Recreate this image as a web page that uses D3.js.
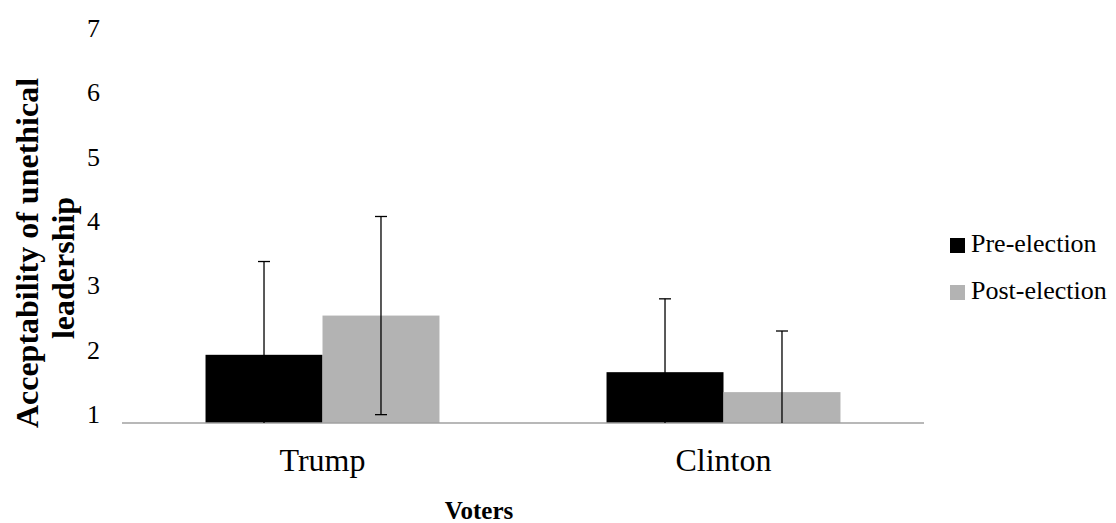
<!DOCTYPE html>
<html>
<head>
<meta charset="utf-8">
<script src="https://cdn.jsdelivr.net/npm/d3@7"></script>
<style>
  body { margin: 0; background: #fff; }
</style>
</head>
<body>
<script>
// data
var voters = ["Trump", "Clinton"];
var series = ["Pre-election", "Post-election"];
var means = {
    "Pre-election": [2.06, 1.79],
    "Post-election": [2.67, 1.48]
};
var sds = {
    "Pre-election": [1.45, 1.14],
    "Post-election": [1.54, 0.95]
};
var yTicks = [1, 2, 3, 4, 5, 6, 7];
var colours = { "Pre-election": "#000000", "Post-election": "#b3b3b3" };

var width = 1116, height = 523;
var serif = "'Liberation Serif', 'Times New Roman', Times, 'DejaVu Serif', serif";

var svg = d3.select("body")
    .append("svg")
    .attr("width", width)
    .attr("height", height)
    .attr("font-family", serif)
    .style("font-family", serif);

// scales
var x0 = d3.scaleBand()
    .domain(voters)
    .range([122, 924]);

var x1 = d3.scaleBand()
    .domain(series)
    .range([0, x0.bandwidth()])
    .paddingInner(0)
    .paddingOuter(0.714);

var y = d3.scaleLinear()
    .domain([1, 7])
    .range([423, 37]);

// y tick labels
svg.selectAll("text.ytick")
    .data(yTicks)
    .enter()
    .append("text")
        .attr("class", "ytick")
        .attr("x", 100)
        .attr("y", (d) => y(d))
        .attr("text-anchor", "end")
        .style("font-size", "26px")
        .text((d) => d)

// bars
var barData = [];
voters.forEach((v, i) => {
    series.forEach((s) => {
        barData.push({ voter: v, series: s, mean: means[s][i], sd: sds[s][i] });
    });
});

svg.selectAll("rect.bar")
    .data(barData)
    .enter()
    .append("rect")
        .attr("class", "bar")
        .attr("x", (d) => x0(d.voter) + x1(d.series))
        .attr("y", (d) => y(d.mean))
        .attr("width", x1.bandwidth())
        .attr("height", (d) => y(1) - y(d.mean))
        .attr("fill", (d) => colours[d.series])

// x axis line
svg.append("line")
    .attr("x1", x0.range()[0])
    .attr("x2", x0.range()[1])
    .attr("y1", y(1))
    .attr("y2", y(1))
    .attr("stroke", "#a0a0a0")
    .attr("stroke-width", 1.5)

// error bars
var capW = 6;
var err = svg.selectAll("g.err")
    .data(barData)
    .enter()
    .append("g")
        .attr("class", "err")
        .attr("transform", (d) => "translate(" + (x0(d.voter) + x1(d.series) + x1.bandwidth() / 2) + ",0)")

err.append("line")
    .attr("y1", (d) => y(d.mean + d.sd))
    .attr("y2", (d) => y(Math.max(1, d.mean - d.sd)))
    .attr("stroke", "#000")
    .attr("stroke-width", 1.3)

err.append("line")
    .attr("x1", -capW).attr("x2", capW)
    .attr("y1", (d) => y(d.mean + d.sd))
    .attr("y2", (d) => y(d.mean + d.sd))
    .attr("stroke", "#000")
    .attr("stroke-width", 1.3)

err.filter((d) => d.mean - d.sd > 1)
    .append("line")
    .attr("x1", -capW).attr("x2", capW)
    .attr("y1", (d) => y(d.mean - d.sd))
    .attr("y2", (d) => y(d.mean - d.sd))
    .attr("stroke", "#000")
    .attr("stroke-width", 1.3)

// category labels
svg.selectAll("text.xcat")
    .data(voters)
    .enter()
    .append("text")
        .attr("class", "xcat")
        .attr("x", (d) => x0(d) + x0.bandwidth() / 2)
        .attr("y", 471)
        .attr("text-anchor", "middle")
        .style("font-size", "32px")
        .text((d) => d)

// axis titles
svg.append("text")
    .attr("x", 479)
    .attr("y", 519)
    .attr("text-anchor", "middle")
    .style("font-size", "25px")
    .style("font-weight", "bold")
    .text("Voters")

svg.append("text")
    .attr("transform", "translate(38,253) rotate(-90)")
    .attr("text-anchor", "middle")
    .style("font-size", "32px")
    .style("font-weight", "bold")
    .text("Acceptability of unethical")

svg.append("text")
    .attr("transform", "translate(74,268) rotate(-90)")
    .attr("text-anchor", "middle")
    .style("font-size", "32px")
    .style("font-weight", "bold")
    .text("leadership")

// legend
var legend = svg.selectAll("g.legend")
    .data(series)
    .enter()
    .append("g")
        .attr("class", "legend")
        .attr("transform", (d, i) => "translate(950," + (238 + i * 47) + ")")

legend.append("rect")
    .attr("width", 15)
    .attr("height", 15)
    .attr("fill", (d) => colours[d])

legend.append("text")
    .attr("x", 21)
    .attr("y", 14)
    .style("font-size", "26px")
    .text((d) => d)
</script>
</body>
</html>
